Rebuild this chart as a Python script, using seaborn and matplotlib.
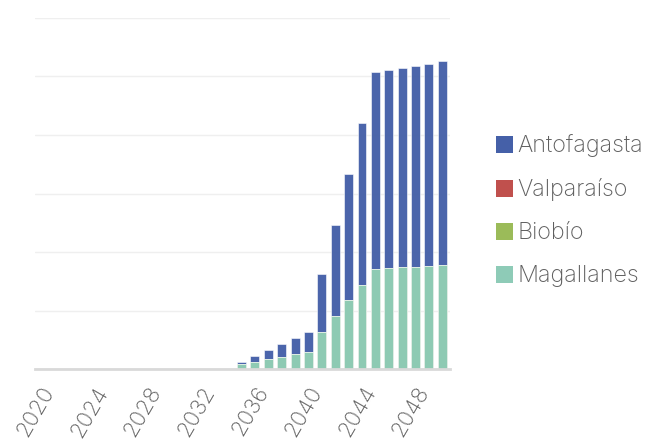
"""Stacked bars of regional capacity by year."""

import matplotlib
matplotlib.use("Agg")
import matplotlib.pyplot as plt
import pandas as pd
import seaborn as sns
from matplotlib.patches import Patch

years = list(range(2020, 2051))
magallanes = [0] * 15 + [4.3, 6.6, 8.5, 10.8, 12.8, 15.1, 32.0, 46.0, 59.0,
                         72.4, 85.8, 86.3, 87.2, 87.8, 88.6, 89.2]
biobio = [0] * 31
valparaiso = [0] * 31
antofagasta = [0] * 15 + [2.1, 4.5, 8.1, 11.1, 14.0, 16.9, 49.0, 77.5, 108.0,
                          138.0, 167.8, 169.0, 170.1, 171.2, 172.1, 173.5]

regions = ["Antofagasta", "Valparaíso", "Biobío", "Magallanes"]
colors = {"Antofagasta": "#4560a8", "Valparaíso": "#c0504d",
          "Biobío": "#9bbb59", "Magallanes": "#8ecbb7"}

sns.set_theme(style="white")
plt.rcParams["font.family"] = ["Inter", "DejaVu Sans"]

df = pd.DataFrame({"year": years, "Magallanes": magallanes, "Biobío": biobio,
                   "Valparaíso": valparaiso, "Antofagasta": antofagasta})
# cumulative tops, bottom to top: Magallanes, Biobío, Valparaíso, Antofagasta
stack = ["Magallanes", "Biobío", "Valparaíso", "Antofagasta"]
cum = df[stack].cumsum(axis=1)

fig = plt.figure(figsize=(6.51, 4.43), dpi=100)
ax = fig.add_axes([0.054, 0.166, 0.637, 0.794])

for name in reversed(stack):
    sns.barplot(x=df["year"], y=cum[name], order=years, color=colors[name],
                saturation=1, width=0.67, edgecolor="#ffffff", linewidth=0.4,
                alpha=0.97, ax=ax)

ax.set_ylim(0, 300)
ax.set_xlim(-0.41, 30.56)
ax.set_yticks(range(0, 301, 50))
ax.set_yticklabels([])
ax.yaxis.grid(True, color="#efefef", linewidth=1)
ax.set_axisbelow(True)
ax.tick_params(axis="y", length=0)
ax.set_xlabel("")
ax.set_ylabel("")
for side in ["top", "right", "left"]:
    ax.spines[side].set_visible(False)
ax.spines["bottom"].set_color("#d9d9d9")
ax.spines["bottom"].set_linewidth(2)

ax.set_xticks(range(0, 31, 4))
ax.set_xticklabels([str(y) for y in years[::4]], rotation=60, ha="right",
                   rotation_mode="anchor", fontsize=16, color="#5f5f5f",
                   fontweight="light")
ax.tick_params(axis="x", length=0, pad=10)

handles = [Patch(facecolor=colors[r], edgecolor="none") for r in regions]
fig.legend(handles, regions, loc="center left", bbox_to_anchor=(0.73, 0.524),
           frameon=False, labelcolor="#5f5f5f",
           handlelength=0.72, handleheight=0.72, handletextpad=0.18,
           labelspacing=0.9, prop={"size": 16.8, "weight": "light"})

fig.savefig("out.png", dpi=100)
plt.close(fig)
